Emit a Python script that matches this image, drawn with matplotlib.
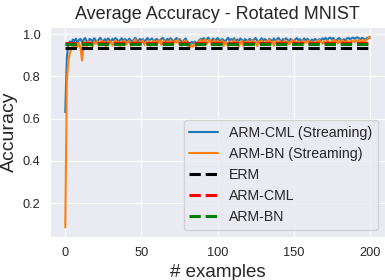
import matplotlib
matplotlib.use("Agg")
import matplotlib.pyplot as plt
import seaborn as sns
import numpy as np

arm_cml_stream = [
    0.63, 0.89, 0.95, 0.965, 0.955, 0.974, 0.966, 0.978, 0.960, 0.972,
    0.977, 0.963, 0.972, 0.981, 0.967, 0.960, 0.977, 0.972, 0.965, 0.980,
    0.970, 0.962, 0.974, 0.982, 0.971, 0.964, 0.976, 0.967, 0.979, 0.972,
    0.963, 0.977, 0.970, 0.981, 0.974, 0.965, 0.971, 0.980, 0.967, 0.976,
    0.972, 0.964, 0.978, 0.970, 0.961, 0.974, 0.982, 0.971, 0.965, 0.977,
    0.970, 0.976, 0.963, 0.972, 0.981, 0.967, 0.974, 0.979, 0.965, 0.971,
    0.977, 0.970, 0.964, 0.976, 0.982, 0.972, 0.965, 0.977, 0.971, 0.980,
    0.974, 0.963, 0.972, 0.981, 0.970, 0.976, 0.967, 0.960, 0.971, 0.979,
    0.965, 0.959, 0.954, 0.963, 0.957, 0.964, 0.955, 0.961, 0.970, 0.977,
    0.972, 0.981, 0.967, 0.976, 0.983, 0.971, 0.964, 0.979, 0.974, 0.970,
    0.981, 0.972, 0.965, 0.977, 0.970, 0.963, 0.974, 0.982, 0.967, 0.976,
    0.971, 0.980, 0.964, 0.974, 0.967, 0.979, 0.972, 0.962, 0.976, 0.970,
    0.965, 0.977, 0.971, 0.963, 0.974, 0.981, 0.970, 0.961, 0.972, 0.980,
    0.967, 0.976, 0.971, 0.964, 0.977, 0.972, 0.965, 0.979, 0.970, 0.974,
    0.982, 0.971, 0.963, 0.976, 0.970, 0.980, 0.972, 0.965, 0.977, 0.971,
    0.964, 0.974, 0.981, 0.970, 0.976, 0.965, 0.972, 0.979, 0.967, 0.977,
    0.971, 0.963, 0.974, 0.967, 0.977, 0.972, 0.964, 0.976, 0.970, 0.980,
    0.974, 0.982, 0.971, 0.979, 0.983, 0.976, 0.981, 0.972, 0.967, 0.977,
    0.981, 0.972, 0.964, 0.976, 0.970, 0.979, 0.982, 0.974, 0.980, 0.983,
    0.977, 0.982, 0.984, 0.979, 0.975, 0.982, 0.978, 0.972, 0.980, 0.983,
    0.981,
]

arm_bn_stream = [
    0.085, 0.78, 0.87, 0.91, 0.93, 0.948, 0.932, 0.955, 0.938, 0.958,
    0.932, 0.875, 0.952, 0.962, 0.943, 0.966, 0.948, 0.960, 0.940, 0.964,
    0.954, 0.966, 0.945, 0.961, 0.970, 0.949, 0.963, 0.942, 0.968, 0.956,
    0.965, 0.946, 0.960, 0.971, 0.951, 0.963, 0.943, 0.967, 0.957, 0.970,
    0.950, 0.961, 0.968, 0.944, 0.956, 0.965, 0.975, 0.954, 0.947, 0.966,
    0.960, 0.971, 0.948, 0.963, 0.954, 0.968, 0.944, 0.960, 0.970, 0.951,
    0.965, 0.958, 0.973, 0.949, 0.961, 0.969, 0.946, 0.966, 0.956, 0.972,
    0.963, 0.953, 0.968, 0.960, 0.974, 0.954, 0.945, 0.966, 0.958, 0.970,
    0.951, 0.943, 0.938, 0.948, 0.940, 0.955, 0.942, 0.960, 0.966, 0.972,
    0.960, 0.969, 0.975, 0.954, 0.966, 0.973, 0.949, 0.963, 0.971, 0.957,
    0.968, 0.946, 0.960, 0.970, 0.944, 0.963, 0.955, 0.941, 0.966, 0.950,
    0.960, 0.972, 0.947, 0.965, 0.940, 0.958, 0.968, 0.944, 0.963, 0.955,
    0.969, 0.948, 0.961, 0.971, 0.951, 0.963, 0.943, 0.967, 0.956, 0.970,
    0.960, 0.950, 0.968, 0.958, 0.973, 0.952, 0.965, 0.945, 0.961, 0.970,
    0.956, 0.966, 0.948, 0.960, 0.971, 0.954, 0.965, 0.951, 0.963, 0.972,
    0.957, 0.968, 0.954, 0.965, 0.949, 0.961, 0.970, 0.956, 0.966, 0.960,
    0.969, 0.954, 0.965, 0.960, 0.949, 0.968, 0.958, 0.971, 0.963, 0.954,
    0.966, 0.960, 0.970, 0.963, 0.952, 0.968, 0.961, 0.972, 0.965, 0.956,
    0.968, 0.960, 0.971, 0.965, 0.954, 0.969, 0.963, 0.957, 0.970, 0.966,
    0.961, 0.971, 0.965, 0.973, 0.967, 0.959, 0.972, 0.966, 0.974, 0.978,
    0.988,
]

erm_acc = 0.933
arm_cml_acc = 0.957
arm_bn_acc = 0.952

labels = ["ARM-CML (Streaming)", "ARM-BN (Streaming)", "ERM", "ARM-CML", "ARM-BN"]

sns.set_style("darkgrid")
plt.rcParams['font.family'] = ['Liberation Sans', 'DejaVu Sans']

fig = plt.figure(figsize=(3.85, 2.8), dpi=100)
ax = fig.add_axes([0.13, 0.1536, 0.87, 0.75])

x = np.arange(len(arm_cml_stream))
ax.plot(x, arm_cml_stream, color='#1f77b4', lw=1.5, label=labels[0])
ax.plot(x, arm_bn_stream, color='#ff7f0e', lw=1.5, label=labels[1])
ax.plot([x[0], x[-1]], [erm_acc, erm_acc], color='black', ls='--', lw=2.2, label=labels[2])
ax.plot([x[0], x[-1]], [arm_cml_acc, arm_cml_acc], color='red', ls='--', lw=2.2, label=labels[3])
ax.plot([x[0], x[-1]], [arm_bn_acc, arm_bn_acc], color='green', ls='--', lw=2.2, label=labels[4])

ax.set_title("Average Accuracy - Rotated MNIST", fontsize=13, color='0.15')
ax.set_xlabel("# examples", fontsize=13.5)
ax.set_ylabel("Accuracy", fontsize=14, labelpad=3)
ax.tick_params(labelsize=9.2)
ax.set_yticks([0.2, 0.4, 0.6, 0.8, 1.0])
ax.legend(loc='lower right', fontsize=10.2)

fig.savefig("out.png", dpi=100)
